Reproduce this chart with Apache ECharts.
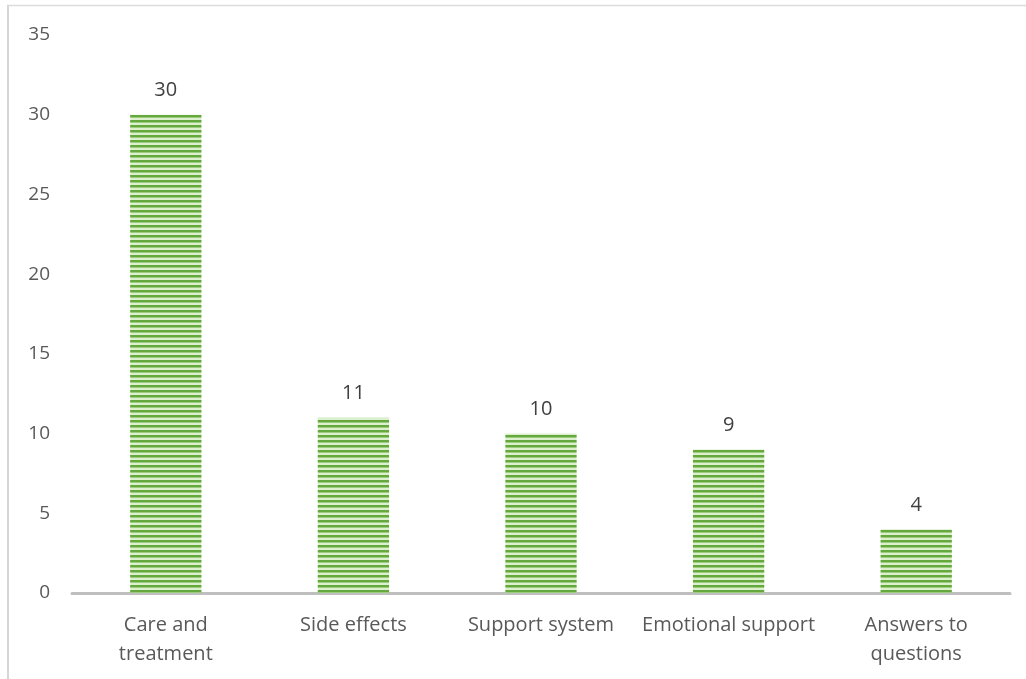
<!DOCTYPE html>
<html>
<head>
<meta charset="utf-8">
<script src="https://cdn.jsdelivr.net/npm/echarts@6/dist/echarts.min.js"></script>
<style>
  html, body { margin: 0; padding: 0; background: #fff; }
  #chart { width: 1026px; height: 679px; }
</style>
</head>
<body>
<div id="chart"></div>
<script>
// Topics and how many times each was mentioned
const categories = ['Care and\ntreatment', 'Side effects', 'Support system', 'Emotional support', 'Answers to\nquestions'];
const counts = [30, 11, 10, 9, 4];
const yTicks = { min: 0, max: 35, interval: 5 };

// Horizontal green stripe fill for the bars
function stripePattern() {
  const c = document.createElement('canvas');
  c.width = 4; c.height = 5;
  const ctx = c.getContext('2d');
  ctx.fillStyle = '#dcf0ce';
  ctx.fillRect(0, 0, 4, 5);
  ctx.fillStyle = '#64a83e';
  ctx.fillRect(0, 0, 4, 2);
  ctx.fillStyle = '#9ccd7f';
  ctx.fillRect(0, 2, 4, 1);
  return c;
}

const chart = echarts.init(document.getElementById('chart'), null, { renderer: 'canvas' });
const font = '"Open Sans", "Noto Sans", sans-serif';

chart.setOption({
  animation: false,
  backgroundColor: '#ffffff',
  graphic: [
    { type: 'line', shape: { x1: 7, y1: 5.5, x2: 1026, y2: 5.5 }, style: { stroke: '#dcdcdc', lineWidth: 1.5 } },
    { type: 'line', shape: { x1: 8, y1: 5, x2: 8, y2: 679 }, style: { stroke: '#d6d6d6', lineWidth: 2 } }
  ],
  grid: { left: 72, right: 16, top: 35, bottom: 86, containLabel: false },
  xAxis: {
    type: 'category',
    data: categories,
    axisLine: { show: true, lineStyle: { color: '#bfbfbf', width: 3 } },
    axisTick: { show: false },
    axisLabel: { color: '#595959', fontSize: 20, fontFamily: font, margin: 18, lineHeight: 29, interval: 0 }
  },
  yAxis: {
    type: 'value',
    min: yTicks.min, max: yTicks.max, interval: yTicks.interval,
    axisLine: { show: false },
    axisTick: { show: false },
    splitLine: { show: false },
    axisLabel: { color: '#595959', fontSize: 19, fontFamily: font, margin: 22 }
  },
  series: [{
    type: 'bar',
    data: counts,
    barWidth: '38%',
    itemStyle: { color: { image: stripePattern(), repeat: 'repeat' } },
    label: {
      show: true, position: 'top', distance: 14,
      color: '#404040', fontSize: 20, fontFamily: font
    }
  }]
});
</script>
</body>
</html>
